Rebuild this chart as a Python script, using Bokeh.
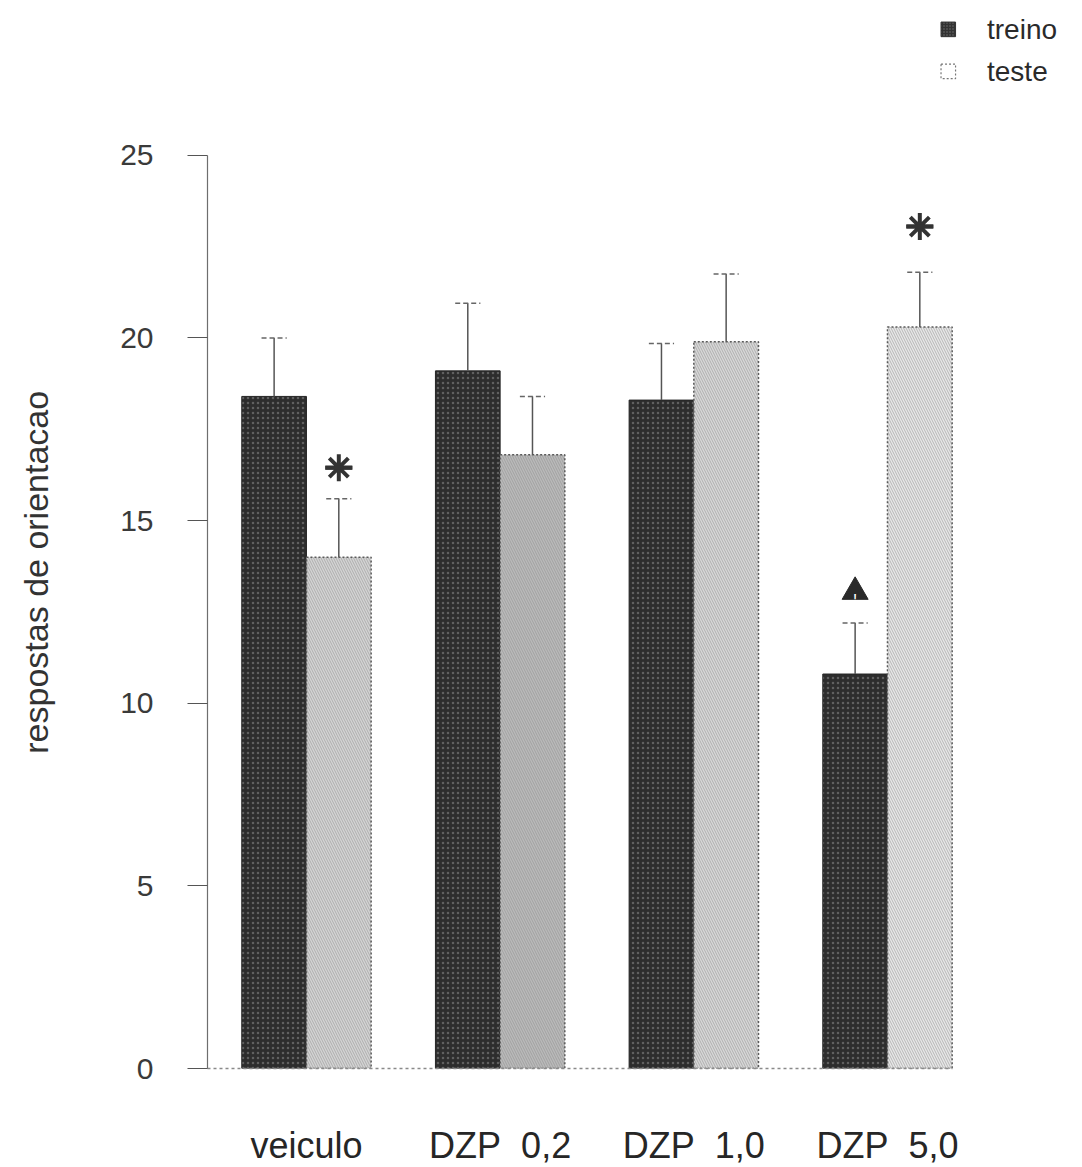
from bokeh.plotting import figure
from bokeh.models import Range1d, FixedTicker, ColumnDataSource
from bokeh.core.properties import value
from bokeh.embed import file_html
from bokeh.resources import INLINE

NB = "\u00a0"

# ---- data ----
groups = ["veiculo", "DZP" + NB * 2 + "0,2", "DZP" + NB * 2 + "1,0", "DZP" + NB * 2 + "5,0"]
series = ["treino", "teste"]
treino = [18.4, 19.1, 18.3, 10.8]
treino_err = [1.6, 1.85, 1.55, 1.4]
teste = [14.0, 16.8, 19.9, 20.3]
teste_err = [1.6, 1.6, 1.85, 1.5]
y_ticks = [0, 5, 10, 15, 20, 25]
# significance marks: (group index, series, symbol)
marks = [(0, "teste", "asterisk"), (3, "teste", "asterisk"), (3, "treino", "triangle")]

# ---- styles ----
teste_fill = ["#d4d4d4", "#bababa", "#d8d8d8", "#e8e8e8"]
FONT = "Liberation Sans"

xc = [i + 1 for i in range(len(groups))]
off = 0.167
bw = 0.334

p = figure(frame_width=875, frame_height=1068, min_border_left=207, min_border_right=0,
           min_border_top=0, min_border_bottom=99, output_backend="svg", toolbar_location=None,
           x_range=Range1d(0.489, 5.007), y_range=Range1d(0, 29.24))
p.outline_line_color = None
p.grid.visible = False
p.background_fill_color = "white"
p.border_fill_color = "white"

# bars
src_tr = ColumnDataSource(dict(x=[v - off for v in xc], top=treino,
                               up=[a + b for a, b in zip(treino, treino_err)]))
src_te = ColumnDataSource(dict(x=[v + off for v in xc], top=teste, fill=teste_fill,
                               up=[a + b for a, b in zip(teste, teste_err)]))

p.vbar(x="x", top="top", bottom=0, width=bw, source=src_tr, fill_color="#2d2d2d",
       line_color="#262626", line_width=1, hatch_pattern="dot", hatch_color="#8a8a8a",
       hatch_alpha=0.55, hatch_scale=5)
p.vbar(x="x", top="top", bottom=0, width=bw, source=src_te, fill_color="fill",
       line_color="#5a5a5a", line_width=1.5, line_dash="2 2",
       hatch_pattern="left_diagonal_line", hatch_color="#8c8c8c", hatch_alpha=0.55,
       hatch_scale=5, hatch_weight=1)

# error bars (upper only)
for src in (src_tr, src_te):
    p.segment(x0="x", y0="top", x1="x", y1="up", source=src, line_color="#555555", line_width=1.5)
    d = src.data
    p.segment(x0=[x - 0.065 for x in d["x"]], y0=d["up"], x1=[x + 0.065 for x in d["x"]],
              y1=d["up"], line_color="#666666", line_width=1.5, line_dash="5 3")

# significance marks
for gi, s, sym in marks:
    if s == "teste":
        x = xc[gi] + off
        y = teste[gi] + teste_err[gi]
    else:
        x = xc[gi] - off
        y = treino[gi] + treino_err[gi]
    if sym == "asterisk":
        yy = y + (0.85 if gi == 0 else 1.25)
        p.scatter([x], [yy], marker="asterisk", size=27, line_color="#333333", line_width=4)
        p.scatter([x], [yy], marker="dash", size=27, line_color="#333333", line_width=4)
    else:
        yy = y + 0.85
        p.scatter([x], [yy], marker="triangle", size=26, fill_color="#2a2a2a", line_color="#2a2a2a")
        p.text([x], [yy - 0.18], text=["!"], text_color="white", text_font_size="11px",
               text_align="center", text_baseline="middle", text_font=value(FONT),
               text_font_style="bold")

# axes
ya = p.yaxis[0]
ya.ticker = FixedTicker(ticks=y_ticks)
ya.bounds = (0, 25)
ya.axis_line_color = "#6e6e6e"
ya.axis_line_width = 1.2
ya.major_tick_out = 20
ya.major_tick_in = 0
ya.major_tick_line_color = "#555555"
ya.major_tick_line_width = 1.2
ya.minor_tick_line_color = None
ya.major_label_standoff = 34
ya.major_label_text_font = FONT
ya.major_label_text_font_size = "30px"
ya.major_label_text_color = "#3a3a3a"
ya.axis_label = "respostas de orientacao" + NB * 8
ya.axis_label_text_font = FONT
ya.axis_label_text_font_size = "34px"
ya.axis_label_text_font_style = "normal"
ya.axis_label_text_color = "#333333"
ya.axis_label_standoff = 62

xa = p.xaxis[0]
xa.ticker = FixedTicker(ticks=xc)
xa.major_label_overrides = {v: g for v, g in zip(xc, groups)}
xa.bounds = (0.427, 4.335)
xa.axis_line_color = "#8a8a8a"
xa.axis_line_width = 1.5
xa.axis_line_dash = "3 3"
xa.major_tick_line_color = None
xa.minor_tick_line_color = None
xa.major_label_standoff = 50
xa.major_label_text_font = FONT
xa.major_label_text_font_size = "36px"
xa.major_label_text_color = "#262626"

# legend (drawn in upper right)
lx = 4.314
p.rect([lx], [28.45], width=0.075, height=0.4, fill_color="#333333", line_color="#333333",
       hatch_pattern="dot", hatch_color="#999999", hatch_alpha=0.6, hatch_scale=3)
p.rect([lx], [27.3], width=0.075, height=0.4, fill_color="white", line_color="#777777",
       line_dash="2 2", line_width=1.2)
p.text([lx + 0.2, lx + 0.2], [28.45, 27.3], text=series, text_font=value(FONT),
       text_font_size="28px", text_baseline="middle", text_color="#2a2a2a")

open("out.html", "w").write(file_html(p, INLINE))
